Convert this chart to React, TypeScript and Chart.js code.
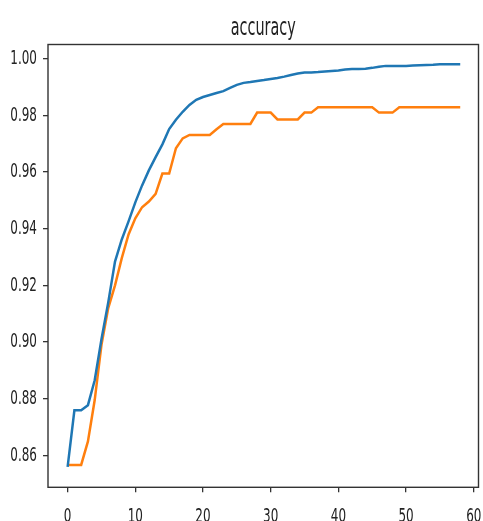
import React, { useEffect, useRef } from "react";
import { Chart, registerables } from "chart.js";

Chart.register(...registerables);

const TITLE = "accuracy";

const epochs = [
  0, 1, 2, 3, 4, 5, 6, 7, 8, 9, 10, 11, 12, 13, 14, 15, 16, 17, 18, 19,
  20, 21, 22, 23, 24, 25, 26, 27, 28, 29, 30, 31, 32, 33, 34, 35, 36, 37, 38, 39,
  40, 41, 42, 43, 44, 45, 46, 47, 48, 49, 50, 51, 52, 53, 54, 55, 56, 57, 58,
];

const trainAcc = [
  0.8559, 0.8759, 0.8759, 0.8777, 0.8865, 0.901, 0.914, 0.9284, 0.9362, 0.9426,
  0.9493, 0.9553, 0.9606, 0.9653, 0.9698, 0.9752, 0.9785, 0.9813, 0.9837, 0.9855,
  0.9865, 0.9872, 0.9879, 0.9886, 0.9897, 0.9908, 0.9915, 0.9918, 0.9922, 0.9925,
  0.9929, 0.9932, 0.9937, 0.9943, 0.9948, 0.9952, 0.9952, 0.9953, 0.9955, 0.9957,
  0.9959, 0.9962, 0.9964, 0.9964, 0.9965, 0.9968, 0.9972, 0.9975, 0.9975, 0.9975,
  0.9975, 0.9976, 0.9977, 0.9978, 0.9979, 0.9981, 0.9981, 0.9981, 0.9981,
];

const valAcc = [
  0.8566, 0.8566, 0.8566, 0.8649, 0.8795, 0.899, 0.912, 0.92, 0.9296, 0.938,
  0.9437, 0.9476, 0.9496, 0.9523, 0.9595, 0.9595, 0.9684, 0.9719, 0.9731, 0.9731,
  0.9731, 0.9731, 0.9751, 0.977, 0.977, 0.977, 0.977, 0.977, 0.981, 0.981,
  0.981, 0.9786, 0.9786, 0.9786, 0.9786, 0.981, 0.981, 0.9829, 0.9829, 0.9829,
  0.9829, 0.9829, 0.9829, 0.9829, 0.9829, 0.9829, 0.981, 0.981, 0.981, 0.9829,
  0.9829, 0.9829, 0.9829, 0.9829, 0.9829, 0.9829, 0.9829, 0.9829, 0.9829,
];

const xTicks = [0, 10, 20, 30, 40, 50, 60];
const yTicks = [0.86, 0.88, 0.9, 0.92, 0.94, 0.96, 0.98, 1.0];

const FONT = "'DejaVu Sans', sans-serif";
const TEXT_SX = 0.6; // horizontal squeeze of the reference's text
const W = 483;
const H = 530;
const CHART_BOTTOM = 487.3;

const framePlugin = {
  id: "frame",
  afterDatasetsDraw(chart: any) {
    const { ctx } = chart;
    const x = chart.scales.x;
    const y = chart.scales.y;
    ctx.save();
    ctx.strokeStyle = "#333";
    ctx.lineWidth = 1.4;
    ctx.strokeRect(x.left, y.top, x.right - x.left, y.bottom - y.top);
    ctx.restore();
  },
};

function squeezeText(ctx: any) {
  if (ctx.__squeezed) return;
  ctx.__squeezed = true;
  const fill = ctx.fillText.bind(ctx);
  const measure = ctx.measureText.bind(ctx);
  ctx.fillText = (t: string, x: number, y: number, mw?: number) => {
    ctx.save();
    ctx.translate(x, y);
    ctx.scale(TEXT_SX, 1);
    if (mw === undefined) fill(t, 0, 0);
    else fill(t, 0, 0, mw / TEXT_SX);
    ctx.restore();
  };
  ctx.measureText = (t: string) => {
    const m = measure(t);
    return {
      width: m.width * TEXT_SX,
      actualBoundingBoxLeft: m.actualBoundingBoxLeft * TEXT_SX,
      actualBoundingBoxRight: m.actualBoundingBoxRight * TEXT_SX,
      actualBoundingBoxAscent: m.actualBoundingBoxAscent,
      actualBoundingBoxDescent: m.actualBoundingBoxDescent,
      fontBoundingBoxAscent: m.fontBoundingBoxAscent,
      fontBoundingBoxDescent: m.fontBoundingBoxDescent,
    };
  };
}

export default function App() {
  const ref = useRef<HTMLCanvasElement | null>(null);

  useEffect(() => {
    if (!ref.current) return;
    const c2d = ref.current.getContext("2d");
    squeezeText(c2d);
    const chart = new Chart(ref.current, {
      type: "line",
      data: {
        datasets: [
          {
            label: "train",
            data: trainAcc.map((v, i) => ({ x: epochs[i], y: v })),
            borderColor: "#1f77b4",
            backgroundColor: "#1f77b4",
            borderWidth: 2.5,
            pointRadius: 0,
            tension: 0,
          },
          {
            label: "val",
            data: valAcc.map((v, i) => ({ x: epochs[i], y: v })),
            borderColor: "#ff7f0e",
            backgroundColor: "#ff7f0e",
            borderWidth: 2.5,
            pointRadius: 0,
            tension: 0,
          },
        ],
      },
      options: {
        responsive: false,
        animation: false,
        layout: { padding: { left: 0, right: 4.5, top: 0, bottom: 0 } },
        plugins: {
          legend: { display: false },
          tooltip: { enabled: false },
          title: {
            display: true,
            fullSize: false,
            text: TITLE,
            color: "#222",
            font: { family: FONT, size: 24, weight: "normal" },
            padding: { top: 14, bottom: 1.7 },
          },
        },
        scales: {
          x: {
            type: "linear",
            min: -2.9,
            max: 60.7,
            afterBuildTicks: (scale: any) => {
              scale.ticks = xTicks.map((v) => ({ value: v }));
            },
            afterFit: (scale: any) => {
              scale.height = H - CHART_BOTTOM;
              scale.paddingLeft = 0;
              scale.paddingRight = 0;
            },
            ticks: {
              color: "#222",
              font: { family: FONT, size: 20 },
              padding: 12,
              maxRotation: 0,
              callback: (v: any) => String(v),
            },
            grid: { drawOnChartArea: false, drawTicks: true, tickLength: 5, color: "#333", lineWidth: 1.3 },
            border: { display: false },
          },
          y: {
            type: "linear",
            min: 0.8487,
            max: 1.00505,
            afterBuildTicks: (scale: any) => {
              scale.ticks = yTicks.map((v) => ({ value: v }));
            },
            afterFit: (scale: any) => {
              scale.width = 48;
              scale.paddingTop = 0;
              scale.paddingBottom = 0;
            },
            ticks: {
              color: "#222",
              font: { family: FONT, size: 20 },
              padding: 6,
              callback: (v: any) => Number(v).toFixed(2),
            },
            grid: { drawOnChartArea: false, drawTicks: true, tickLength: 5, color: "#333", lineWidth: 1.3 },
            border: { display: false },
          },
        },
      },
      plugins: [framePlugin],
    });
    return () => chart.destroy();
  }, []);

  return (
    <div style={{ position: "fixed", left: 0, top: 0, width: W, height: 521, overflow: "hidden", background: "#fff" }}>
      <canvas ref={ref} width={W} height={H} style={{ display: "block", width: W, height: H }} />
    </div>
  );
}
